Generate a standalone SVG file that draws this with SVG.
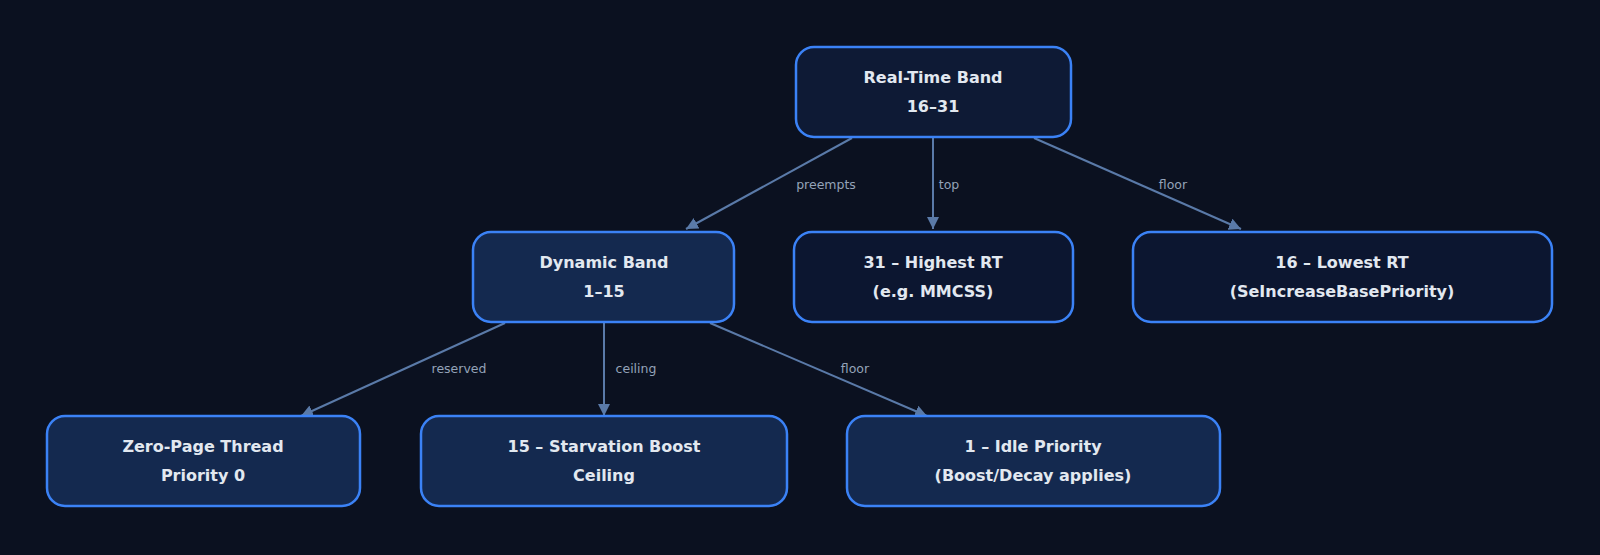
<svg xmlns="http://www.w3.org/2000/svg" width="1600" height="555" viewBox="0 0 1600 555">
<style>
.n rect{stroke:#3b82f6;stroke-width:2.5}
.n text{font-family:"DejaVu Sans",sans-serif;font-weight:bold;font-size:16px;fill:#e2e8f0;text-anchor:middle}
.e path{stroke:#5a7aa8;stroke-width:2;fill:none;marker-end:url(#a)}
.e text{font-family:"DejaVu Sans",sans-serif;font-size:12.5px;fill:#94a3b8;text-anchor:middle}
</style>
<defs><marker id="a" viewBox="0 0 10 10" refX="10" refY="5" markerWidth="6" markerHeight="6" orient="auto" markerUnits="strokeWidth"><path d="M0,0L10,5L0,10z" fill="#5a7aa8"/></marker></defs>
<rect width="1600" height="555" fill="#0b1120"/>
<g class="e">
<path d="M852,138L686,229"/><text x="826" y="189">preempts</text>
<path d="M933,138L933,229"/><text x="949" y="189">top</text>
<path d="M1034,138L1241,229"/><text x="1173" y="189">floor</text>
<path d="M505,323L301,416"/><text x="459" y="373">reserved</text>
<path d="M604,323L604,416"/><text x="636" y="373">ceiling</text>
<path d="M710,323L927,416"/><text x="855" y="373">floor</text>
</g>
<g class="n" id="rt"><rect x="796" y="47" width="275" height="90" rx="18" fill="#0e1a35"/><text x="933" y="83">Real-Time Band</text><text x="933" y="112">16–31</text></g>
<g class="n" id="dyn"><rect x="473" y="232" width="261" height="90" rx="18" fill="#14294f"/><text x="604" y="268">Dynamic Band</text><text x="604" y="297">1–15</text></g>
<g class="n" id="hi"><rect x="794" y="232" width="279" height="90" rx="18" fill="#0c1630"/><text x="933" y="268">31 – Highest RT</text><text x="933" y="297">(e.g. MMCSS)</text></g>
<g class="n" id="lo"><rect x="1133" y="232" width="419" height="90" rx="18" fill="#0c1630"/><text x="1342" y="268">16 – Lowest RT</text><text x="1342" y="297">(SeIncreaseBasePriority)</text></g>
<g class="n" id="zp"><rect x="47" y="416" width="313" height="90" rx="18" fill="#14294f"/><text x="203" y="452">Zero-Page Thread</text><text x="203" y="481">Priority 0</text></g>
<g class="n" id="sb"><rect x="421" y="416" width="366" height="90" rx="18" fill="#14294f"/><text x="604" y="452">15 – Starvation Boost</text><text x="604" y="481">Ceiling</text></g>
<g class="n" id="idle"><rect x="847" y="416" width="373" height="90" rx="18" fill="#14294f"/><text x="1033" y="452">1 – Idle Priority</text><text x="1033" y="481">(Boost/Decay applies)</text></g>
</svg>
